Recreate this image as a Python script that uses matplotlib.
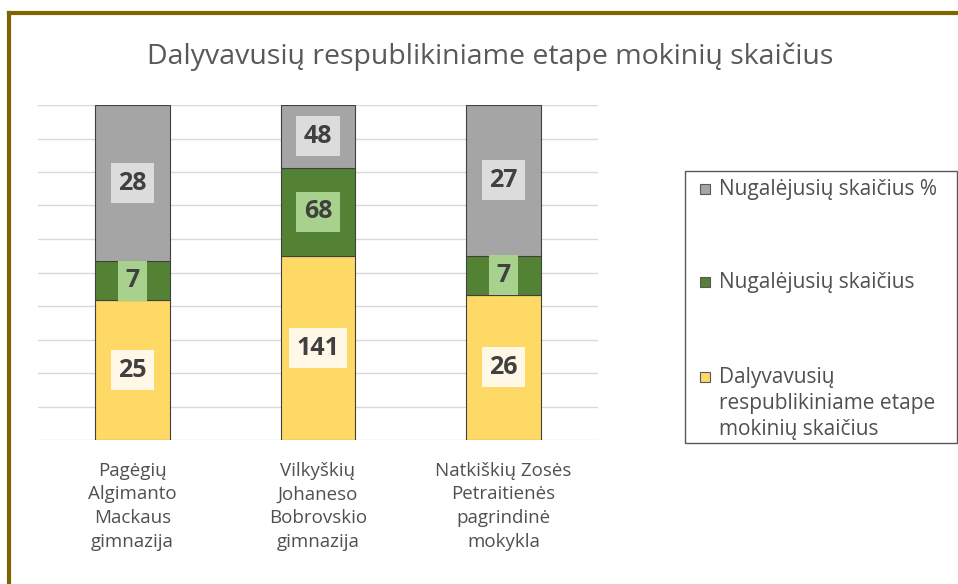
import matplotlib.pyplot as plt
from matplotlib.patches import Rectangle
from matplotlib.lines import Line2D
import numpy as np

plt.rcParams['font.family'] = ['Open Sans', 'DejaVu Sans']

schools = ['Pagėgių\nAlgimanto\nMackaus\ngimnazija',
           'Vilkyškių\nJohaneso\nBobrovskio\ngimnazija',
           'Natkiškių Zosės\nPetraitienės\npagrindinė\nmokykla']
dalyvavusiu = [25, 141, 26]
nugalejusiu = [7, 68, 7]
nugalejusiu_proc = [28, 48, 27]

series_names = ['Dalyvavusių\nrespublikiniame etape\nmokinių skaičius',
                'Nugalėjusių skaičius',
                'Nugalėjusių skaičius %']
bar_colors = ['#FFD966', '#548235', '#A5A5A5']
box_colors = ['#FFF8E6', '#A9D18E', '#DCDCDC']

W, H = 958, 584
fig = plt.figure(figsize=(W / 100, H / 100), dpi=100)
fig.patch.set_facecolor('white')

# outer frame, only the top and left edges show in the reference
frame_col = '#7F6500'
fig.add_artist(Line2D([9 / W, 1], [1 - 13 / H, 1 - 13 / H], color=frame_col, lw=3,
                      transform=fig.transFigure))
fig.add_artist(Line2D([9 / W, 9 / W], [0, 1 - 13 / H], color=frame_col, lw=3,
                      transform=fig.transFigure))

ax = fig.add_axes([38 / W, 144 / H, 560 / W, 335 / H])

data = np.array([dalyvavusiu, nugalejusiu, nugalejusiu_proc], dtype=float)
shares = data / data.sum(axis=0)
x = np.arange(len(schools))
bottom = np.zeros(len(schools))
for i in range(3):
    ax.bar(x, shares[i], 0.40, bottom=bottom, color=bar_colors[i],
           edgecolor='#404040', linewidth=0.8, zorder=2)
    for j in range(len(schools)):
        ax.text(x[j], bottom[j] + shares[i][j] / 2, str(int(data[i][j])),
                ha='center', va='center', fontsize=18, fontweight='bold',
                color='#404040', zorder=3,
                bbox=dict(boxstyle='square,pad=0.3', facecolor=box_colors[i],
                          edgecolor='none'))
    bottom += shares[i]

ax.set_xlim(-0.51, 2.51)
ax.set_ylim(0, 1)
ax.set_yticks(np.arange(0, 1.01, 0.1))
ax.yaxis.grid(True, color='#D9D9D9', linewidth=1)
ax.set_axisbelow(True)
ax.tick_params(axis='y', left=False, labelleft=False)
ax.tick_params(axis='x', bottom=False, pad=12)
ax.set_xticks(x)
ax.set_xticklabels(schools, fontsize=13.5, color='#505050', linespacing=1.42)
for s in ax.spines.values():
    s.set_visible(False)

fig.text(490 / W, 1 - 57 / H, 'Dalyvavusių respublikiniame etape mokinių skaičius',
         ha='center', va='center', fontsize=20.5, color='#595959')

# legend box drawn by hand so the marker sits beside the first line of a wrapped label
fig.add_artist(Rectangle((685 / W, 1 - 443 / H), 272 / W, 272 / H, transform=fig.transFigure,
                         facecolor='white', edgecolor='#595959', linewidth=1))
leg_y = [189, 282, 377]
leg_order = [2, 1, 0]
for k, i in enumerate(leg_order):
    yc = leg_y[k]
    fig.add_artist(Rectangle((700 / W, 1 - (yc + 5) / H), 10 / W, 10 / H,
                             transform=fig.transFigure, facecolor=bar_colors[i],
                             edgecolor='#595959', linewidth=0.8))
    fig.text(719 / W, 1 - (yc - 10) / H, series_names[i], ha='left', va='top',
             fontsize=15, color='#505050', linespacing=1.32)

fig.savefig('out.png', dpi=100)
